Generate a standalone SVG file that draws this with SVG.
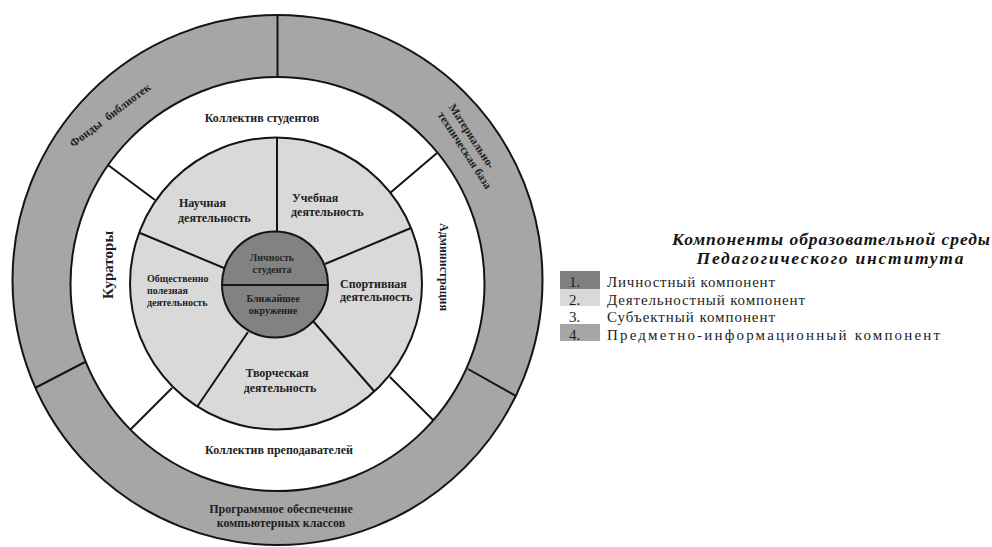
<svg xmlns="http://www.w3.org/2000/svg" width="992" height="547" viewBox="0 0 992 547">
<style>
.ln{stroke:#141414;stroke-width:2;fill:none}
.t{font-family:"Liberation Serif","Times New Roman",serif;font-weight:bold;font-size:12px;fill:#1e1e1e}
.c{text-anchor:middle}
.lg{font-family:"Liberation Serif","Times New Roman",serif;font-size:15px;fill:#1e1e1e}
.ti{font-family:"Liberation Serif","Times New Roman",serif;font-weight:bold;font-style:italic;font-size:17.5px;fill:#141414;text-anchor:middle}
</style>
<rect width="992" height="547" fill="#ffffff"/>
<g id="rings">
<circle cx="277.5" cy="280" r="265" fill="#a6a6a6"/>
<circle cx="277.5" cy="284" r="207" fill="#ffffff"/>
<circle cx="276" cy="283.5" r="146" fill="#d9d9d9"/>
<circle cx="275" cy="284.5" r="53" fill="#828282"/>
<circle class="ln" cx="277.5" cy="280" r="265"/>
<circle class="ln" cx="277.5" cy="284" r="207"/>
<circle class="ln" cx="276" cy="283.5" r="146"/>
<circle class="ln" cx="275" cy="284.5" r="53"/>
</g>
<g id="connectors">
<line class="ln" x1="277.5" y1="77" x2="277.5" y2="15"/>
<line class="ln" x1="468" y1="369" x2="516" y2="396"/>
<line class="ln" x1="85" y1="362" x2="35" y2="388"/>
<line class="ln" x1="108" y1="165" x2="155" y2="200"/>
<line class="ln" x1="437" y1="153" x2="390" y2="193"/>
<line class="ln" x1="390" y1="377" x2="433" y2="420"/>
<line class="ln" x1="172" y1="388" x2="130" y2="430"/>
<line class="ln" x1="277" y1="138" x2="277" y2="232"/>
<line class="ln" x1="140" y1="233" x2="224" y2="268"/>
<line class="ln" x1="411" y1="228" x2="325" y2="264"/>
<line class="ln" x1="313" y1="321" x2="374" y2="391"/>
<line class="ln" x1="248" y1="332" x2="197" y2="407"/>
<line class="ln" x1="222" y1="285" x2="328" y2="285"/>
</g>
<g id="fondy"><text class="t c" style="font-size:11.5px" transform="translate(112.4,118.2) rotate(-37)" word-spacing="4">Фонды библиотек</text></g>
<g id="mtb">
<text class="t c" style="font-size:11.5px" transform="translate(468.6,138.2) rotate(57)">Материально-</text>
<text class="t c" style="font-size:11.5px" transform="translate(461.6,152.2) rotate(57)">техническая база</text>
</g>
<g id="po">
<text class="t c" x="281" y="513">Программное обеспечение</text>
<text class="t c" x="281" y="527">компьютерных классов</text>
</g>
<g id="studenty"><text class="t c" x="262" y="122">Коллектив студентов</text></g>
<g id="prepod"><text class="t c" x="279" y="454">Коллектив преподавателей</text></g>
<g id="kuratory"><text class="t c" style="font-size:15px" transform="translate(113,265) rotate(-90)">Кураторы</text></g>
<g id="admin"><text class="t c" style="font-size:12px" transform="translate(440,267) rotate(90)">Администрация</text></g>
<g id="nauch"><text class="t" x="179" y="207">Научная</text><text class="t" x="178" y="222">деятельность</text></g>
<g id="ucheb"><text class="t" x="292" y="202">Учебная</text><text class="t" x="291" y="216">деятельность</text></g>
<g id="sport"><text class="t" x="340" y="288">Спортивная</text><text class="t" x="340" y="301">деятельность</text></g>
<g id="tvorch"><text class="t c" x="277" y="377">Творческая</text><text class="t c" x="280" y="392">деятельность</text></g>
<g id="obsch"><text class="t" style="font-size:10px" x="147" y="282">Общественно</text><text class="t" style="font-size:10px" x="147" y="294">полезная</text><text class="t" style="font-size:10px" x="147" y="306">деятельность</text></g>
<g id="lichnost"><text class="t c" style="font-size:10px;fill:#262626" x="272" y="261">Личность</text><text class="t c" style="font-size:10px;fill:#262626" x="272" y="273">студента</text></g>
<g id="okruzh"><text class="t c" style="font-size:10px" x="273" y="302">Ближайшее</text><text class="t c" style="font-size:10px" x="273" y="314">окружение</text></g>
<g id="legend">
<text class="ti" x="831" y="245" textLength="318">Компоненты образовательной среды</text>
<text class="ti" x="830" y="264" textLength="267">Педагогического института</text>
<rect x="560" y="271" width="40" height="18" fill="#808080"/>
<rect x="560" y="289" width="40" height="17" fill="#d9d9d9"/>
<rect x="560" y="324" width="40" height="17" fill="#a6a6a6"/>
<text class="lg" x="569" y="287">1.</text><text class="lg" x="607" y="287" textLength="168">Личностный компонент</text>
<text class="lg" x="569" y="304.5">2.</text><text class="lg" x="607" y="304.5" textLength="198">Деятельностный компонент</text>
<text class="lg" x="569" y="322">3.</text><text class="lg" x="607" y="322" textLength="168">Субъектный компонент</text>
<text class="lg" x="569" y="339.5">4.</text><text class="lg" x="607" y="339.5" textLength="333">Предметно-информационный компонент</text>
</g>
</svg>
